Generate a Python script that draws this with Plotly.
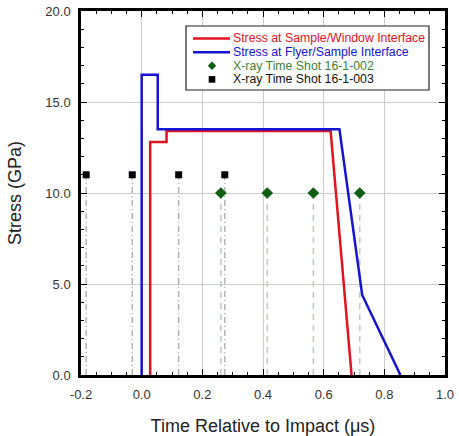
import plotly.graph_objects as go

# Stress histories
red_x = [0.028, 0.028, 0.082, 0.082, 0.623, 0.692]
red_y = [0.0, 12.8, 12.8, 13.4, 13.4, 0.0]
blue_x = [0.0, 0.0, 0.053, 0.053, 0.652, 0.727, 0.853]
blue_y = [0.0, 16.5, 16.5, 13.5, 13.5, 4.4, 0.0]

# X-ray times
green_t = [0.261, 0.414, 0.566, 0.719]
green_s = [10.0, 10.0, 10.0, 10.0]
black_t = [-0.183, -0.031, 0.122, 0.274]
black_s = [11.0, 11.0, 11.0, 11.0]

x_ticks = [-0.2, 0.0, 0.2, 0.4, 0.6, 0.8, 1.0]
x_labels = ["-0.2", "0.0", "0.2", "0.4", "0.6", "0.8", "1.0"]
y_ticks = [0.0, 5.0, 10.0, 15.0, 20.0]
y_labels = ["0.0", "5.0", "10.0", "15.0", "20.0"]

names = ["Stress at Sample/Window Interface", "Stress at Flyer/Sample Interface",
         "X-ray Time Shot 16-1-002", "X-ray Time Shot 16-1-003"]

RED = "#e0141e"
BLUE = "#1414d2"
GREEN = "#0e5f14"
GREEN_TXT = "#3b7f3b"
BLACK = "#000000"

FONT = "Liberation Sans, Arial, sans-serif"

W, H = 459, 436
ML, MR, MT, MB = 81, 14, 11, 61
PW, PH = W - ML - MR, H - MT - MB


def px(x):
    return (x - ML) / PW


def py(y):
    return (H - MB - y) / PH


def drops(xs, ys):
    lx, ly = [], []
    for x, y in zip(xs, ys):
        lx += [x, x, None]
        ly += [0, y, None]
    return lx, ly


fig = go.Figure()
gx, gy = drops(green_t, green_s)
bx, by = drops(black_t, black_s)
fig.add_trace(go.Scatter(x=gx, y=gy, mode="lines", showlegend=False, hoverinfo="skip",
                         line=dict(color="#c4ccc4", width=1.6, dash="6px,5px")))
fig.add_trace(go.Scatter(x=bx, y=by, mode="lines", showlegend=False, hoverinfo="skip",
                         line=dict(color="#b0b0b0", width=1.4, dash="6px,3px,1px,3px")))
fig.add_trace(go.Scatter(x=red_x, y=red_y, mode="lines", name=names[0], showlegend=False,
                         line=dict(color=RED, width=2.5)))
fig.add_trace(go.Scatter(x=blue_x, y=blue_y, mode="lines", name=names[1], showlegend=False,
                         line=dict(color=BLUE, width=2.5)))
fig.add_trace(go.Scatter(x=green_t, y=green_s, mode="markers", name=names[2], showlegend=False,
                         marker=dict(symbol="diamond", size=9, color=GREEN)))
fig.add_trace(go.Scatter(x=black_t, y=black_s, mode="markers", name=names[3], showlegend=False,
                         marker=dict(symbol="square", size=7, color=BLACK)))

axis_common = dict(
    showline=True, linecolor="black", linewidth=2.5, mirror="allticks",
    ticks="inside", ticklen=6, tickwidth=1.2, tickcolor="black",
    showgrid=True, gridcolor="#cccccc", gridwidth=1, zeroline=False,
    tickfont=dict(family=FONT, size=13, color="#333333"),
    automargin=False,
)

fig.update_xaxes(range=[-0.2, 1.0], tickvals=x_ticks, ticktext=x_labels, ticklabelstandoff=6,
                 minor=dict(dtick=0.05, ticks="inside", ticklen=3, tickcolor="black", showgrid=False),
                 title=dict(text="Time Relative to Impact (μs)", font=dict(family=FONT, size=18, color="#222222"), standoff=20),
                 **axis_common)
fig.update_yaxes(range=[0, 20], tickvals=y_ticks, ticktext=y_labels, ticklabelstandoff=5,
                 minor=dict(dtick=1.0, ticks="inside", ticklen=3, tickcolor="black", showgrid=False),
                 title=dict(text="Stress (GPa)", font=dict(family=FONT, size=18, color="#222222"), standoff=20),
                 **axis_common)

# ---- manual legend (compact, coloured texts) ----
shapes = []
annotations = []
box = (186, 26, 429, 90)
shapes.append(dict(type="rect", xref="paper", yref="paper",
                   x0=px(box[0]), x1=px(box[2]), y0=py(box[3]), y1=py(box[1]),
                   line=dict(color="#222222", width=1.2), fillcolor="white", layer="above"))
rows = [38.5, 52.2, 65.7, 79.4]
txt_colors = [RED, BLUE, GREEN_TXT, "#111111"]
for i, (name, yy, c) in enumerate(zip(names, rows, txt_colors)):
    annotations.append(dict(xref="paper", yref="paper", x=px(231), y=py(yy), text=name,
                            showarrow=False, xanchor="left", yanchor="middle",
                            font=dict(family=FONT, size=12.3, color=c)))
# line symbols
for yy, c in [(rows[0], RED), (rows[1], BLUE)]:
    shapes.append(dict(type="line", xref="paper", yref="paper", x0=px(193), x1=px(230),
                       y0=py(yy), y1=py(yy), line=dict(color=c, width=2.5), layer="above"))
# diamond symbol
cx, cy, r = 212, rows[2], 4.2
shapes.append(dict(type="path", xref="paper", yref="paper", layer="above",
                   path=f"M {px(cx)} {py(cy - r)} L {px(cx + r)} {py(cy)} L {px(cx)} {py(cy + r)} L {px(cx - r)} {py(cy)} Z",
                   fillcolor=GREEN, line=dict(color=GREEN, width=0)))
# square symbol
s = 3.3
shapes.append(dict(type="rect", xref="paper", yref="paper", layer="above",
                   x0=px(212 - s), x1=px(212 + s), y0=py(rows[3] + s), y1=py(rows[3] - s),
                   fillcolor=BLACK, line=dict(color=BLACK, width=0)))

fig.update_layout(
    width=W, height=H,
    margin=dict(l=ML, r=MR, t=MT, b=MB),
    plot_bgcolor="white", paper_bgcolor="white",
    font=dict(family=FONT),
    showlegend=False,
    shapes=shapes,
    annotations=annotations,
)

fig.write_html("out.html")
